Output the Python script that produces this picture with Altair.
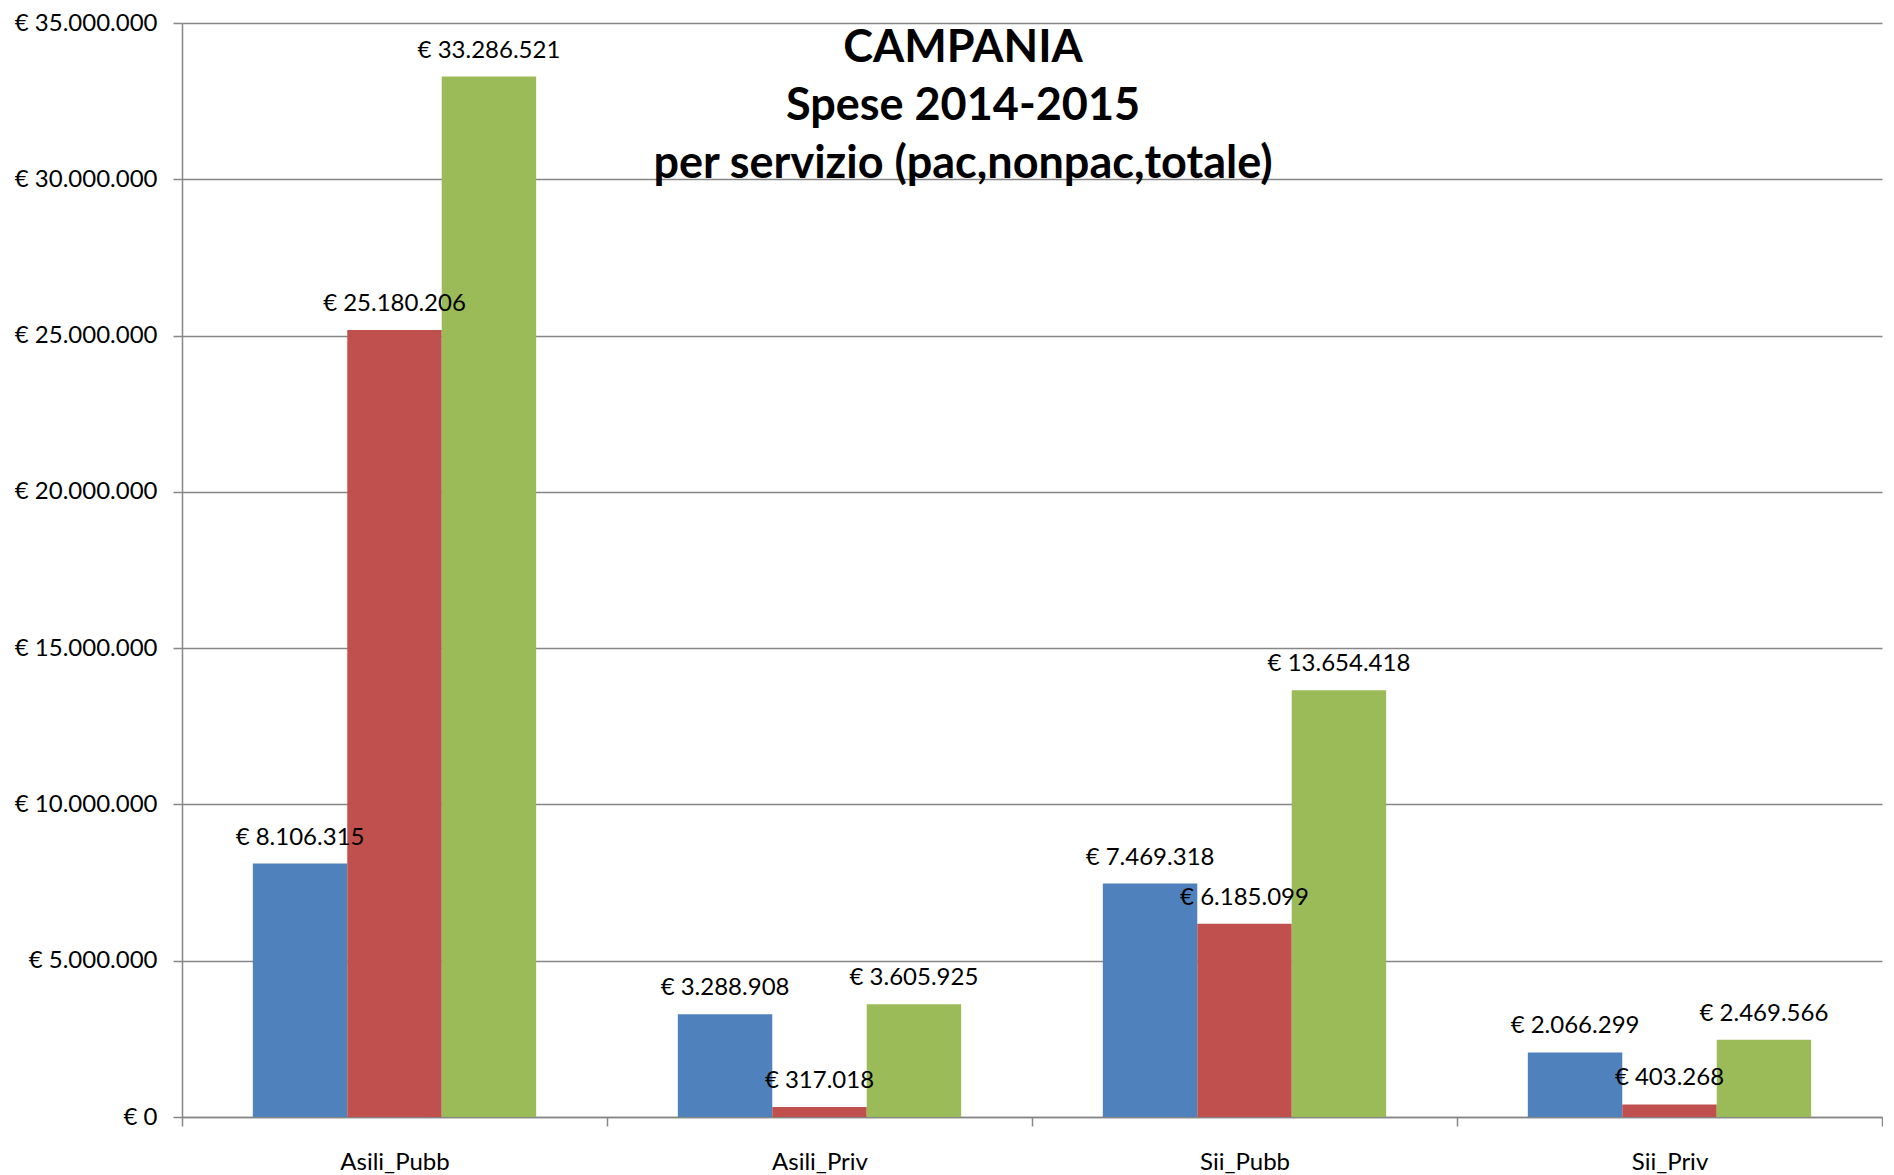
import altair as alt
import pandas as pd

categories = ["Asili_Pubb", "Asili_Priv", "Sii_Pubb", "Sii_Priv"]
series = ["pac", "nonpac", "totale"]
pac = [8106315, 3288908, 7469318, 2066299]
nonpac = [25180206, 317018, 6185099, 403268]
totale = [33286521, 3605925, 13654418, 2469566]
colors = ["#4F81BD", "#C0504D", "#9BBB59"]
y_ticks = [0, 5000000, 10000000, 15000000, 20000000, 25000000, 30000000, 35000000]
title_lines = ["CAMPANIA", "Spese 2014-2015", "per servizio (pac,nonpac,totale)"]

rows = []
for s, vals in zip(series, [pac, nonpac, totale]):
    for c, v in zip(categories, vals):
        rows.append({"cat": c, "serie": s, "value": v,
                     "label": "€ " + f"{v:,}".replace(",", ".")})
df = pd.DataFrame(rows)

FONT = "Lato"
GRAY = "#868686"

x = alt.X("cat:N", sort=categories, title=None,
          scale=alt.Scale(paddingInner=0, paddingOuter=0),
          axis=alt.Axis(labelAngle=0, tickBand="extent", tickSize=9, tickColor=GRAY,
                        tickWidth=1.5, domainColor=GRAY, domainWidth=1.5,
                        labelFont=FONT, labelFontSize=24, labelColor="#000000",
                        labelPadding=24, grid=False))
xo = alt.XOffset("serie:N", sort=series,
                 scale=alt.Scale(paddingInner=0, paddingOuter=0.75))
y = alt.Y("value:Q", title=None,
          scale=alt.Scale(domain=[0, 35000000], nice=False),
          axis=alt.Axis(values=y_ticks, grid=True, gridColor=GRAY, gridWidth=1.5,
                        tickSize=9, tickColor=GRAY, tickWidth=1.5,
                        domainColor=GRAY, domainWidth=1.5,
                        labelFont=FONT, labelFontSize=24, labelColor="#000000",
                        labelPadding=16,
                        labelExpr="'€ ' + replace(replace(format(datum.value, ','), ',', '.'), ',', '.')"))
color = alt.Color("serie:N", sort=series, legend=None,
                  scale=alt.Scale(domain=series, range=colors))

bars = alt.Chart(df).mark_bar().encode(x=x, xOffset=xo, y=y, color=color)
labels = alt.Chart(df).mark_text(baseline="bottom", dy=-14, font=FONT, fontSize=24,
                                 color="#000000").encode(
    x=x, xOffset=xo, y=y, text="label:N")

chart = alt.layer(bars, labels).properties(
    width=1700, height=1094,
    padding={"top": 3, "left": 6, "right": 0, "bottom": 0},
    title=alt.TitleParams(text=title_lines, font=FONT, fontSize=45, fontWeight="bold",
                          color="#000000", anchor="middle", baseline="bottom",
                          lineHeight=58, offset=-221, dx=-69),
).configure_view(stroke=None)

chart.save("out.html", embed_options={"renderer": "svg", "actions": False})
